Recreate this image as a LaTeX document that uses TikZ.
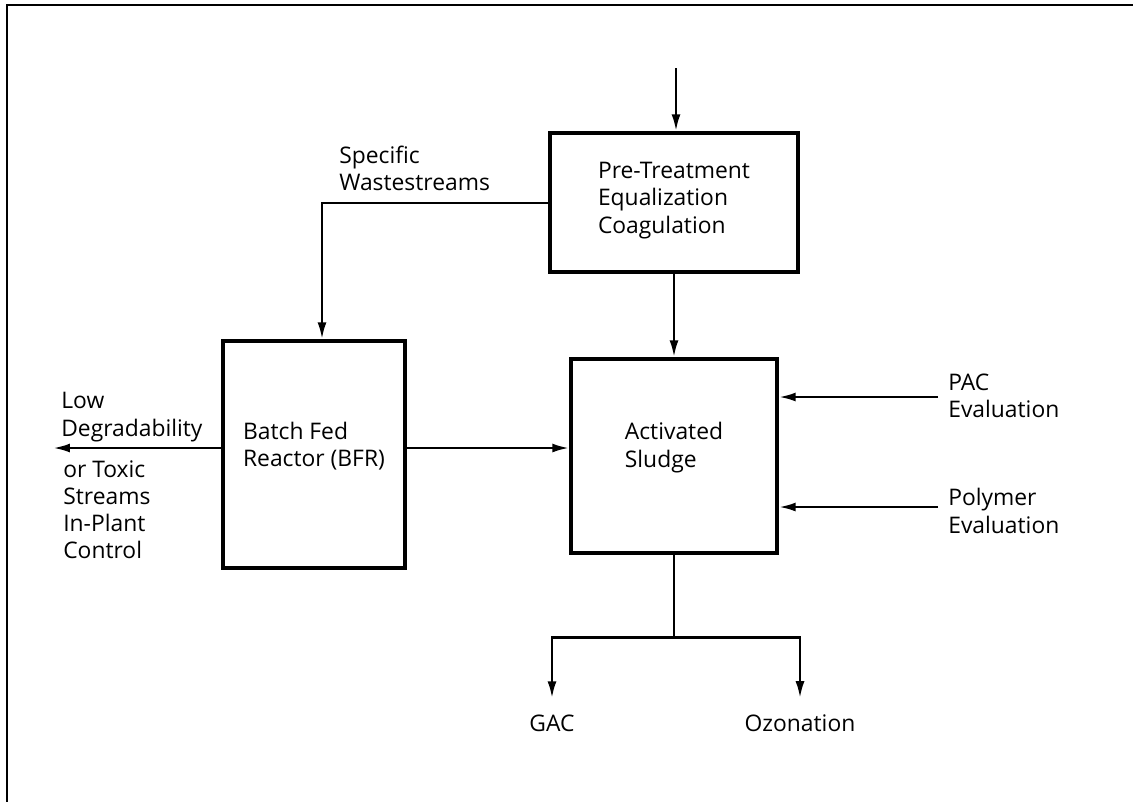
\documentclass[tikz,border=0pt]{standalone}
\usepackage{fontspec}
\setmainfont{Open Sans}
\usetikzlibrary{arrows.meta}
\tikzset{
	unit/.style={draw=black, line width=2pt, inner sep=0pt},
	lbl/.style={align=left, inner sep=0pt}
}

\begin{document}
\begin{tikzpicture}[x=0.02cm, y=-0.02cm, >={Latex[length=3.4mm, width=1.8mm]}, line width=1.5pt,
	every node/.style={font=\fontsize{13}{15.5}\selectfont}]

	\useasboundingbox (0,0) rectangle (1133,802);

	% frame
	\draw[line width=1.6pt] (1133,5) -- (7,5) -- (7,802);

	% process units
	\node[unit, minimum width=4.96cm, minimum height=2.78cm,
		label={[lbl, yshift=0.04cm]center:Pre-Treatment\\Equalization\\Coagulation}] (pre) at (674,202.5) {};
	\node[unit, minimum width=3.64cm, minimum height=4.54cm,
		label={[lbl, yshift=0.17cm]center:Batch Fed\\Reactor (BFR)}] (bfr) at (314,454.5) {};
	\node[unit, minimum width=4.12cm, minimum height=3.88cm,
		label={[lbl, yshift=0.17cm]center:Activated\\Sludge}] (as) at (674,456) {};

	% labels
	\node[lbl, anchor=south west] (spec) at (338,192) {Specific\\Wastestreams};
	\node[lbl, anchor=south west] (low) at (60,443) {Low\\Degradability};
	\node[lbl, anchor=north west] (tox) at (62,459) {or Toxic\\Streams\\In-Plant\\Control};
	\node[lbl, anchor=west] (pac) at (947,396) {PAC\\Evaluation};
	\node[lbl, anchor=west] (poly) at (947,511) {Polymer\\Evaluation};
	\node[lbl] (gac) at (552,723) {GAC};
	\node[lbl] (ozo) at (800,723) {Ozonation};

	\coordinate (feed) at (676,68);
	\coordinate (split) at (322,203);
	\coordinate (mid) at (0,448);
	\coordinate (reject) at (53,448);
	\coordinate (pacin) at (938,397);
	\coordinate (polyin) at (938,507);

	\draw[->] (feed) -- (feed |- pre.north);
	\draw[->] (pre.west |- split) -- (split) -- (split |- bfr.north);
	\draw[->] (pre.south) -- (as.north);
	\draw[->] (bfr.east |- mid) -- (as.west |- mid);
	\draw[->] (bfr.west |- mid) -- (reject);
	\draw[->] (pacin) -- (pacin -| as.east);
	\draw[->] (polyin) -- (polyin -| as.east);

	% effluent split
	\draw (as.south) -- ++(0,83) coordinate (fork);
	\draw[->, shorten >=0.3cm] (fork) -| (gac.north);
	\draw[->, shorten >=0.3cm] (fork) -| (ozo.north);

\end{tikzpicture}
\end{document}
